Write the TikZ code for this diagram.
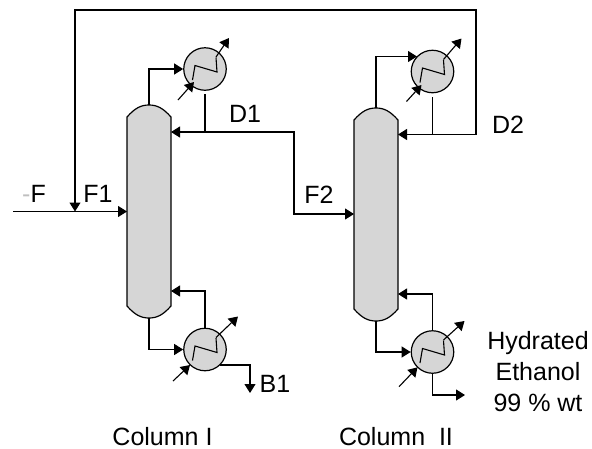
\documentclass[tikz,border=0pt]{standalone}
\usepackage{fontspec}
\setmainfont{Liberation Sans}
\usetikzlibrary{arrows.meta}
\tikzset{
  x=1pt,y=-1pt,
  line/.style={draw=black,line width=1.1pt,line join=miter},
  flow/.style={line,-{Triangle[length=9pt,width=11pt]}},
  vessel/.style={draw=black,line width=1.2pt,fill=black!16},
  hx/.style={circle,vessel,minimum size=42.5pt,inner sep=0pt},
  lab/.style={font=\fontsize{25}{31}\selectfont,text=black,inner sep=0pt,align=center},
}
\newcommand{\coil}[4]{%
  \draw[line] ([shift={(-12.5,11)}]#1.center) -- ++(2.5,-14.5) -- ++(22,6.5) -- ++(-1,-14.5);
  \draw[flow] ([shift={(11,-12)}]#1.center) -- ([shift={(#2)}]#1.center);
  \draw[flow] ([shift={(#3)}]#1.center) -- ([shift={(#4)}]#1.center);
}
\newcommand{\column}[3]{% name, left x, top y
  \draw[vessel] (#2,#3+12) .. controls (#2+8,#3+3) and (#2+14,#3) .. (#2+22,#3)
     .. controls (#2+30,#3) and (#2+36,#3+3) .. (#2+44,#3+12) -- (#2+44,#3+201)
     .. controls (#2+36,#3+210) and (#2+30,#3+213) .. (#2+22,#3+213)
     .. controls (#2+14,#3+213) and (#2+8,#3+210) .. (#2,#3+201) -- cycle;
  \coordinate (#1top) at (#2+22,#3);
  \coordinate (#1bot) at (#2+22,#3+213);
}
\begin{document}
\begin{tikzpicture}
\useasboundingbox (0,0) rectangle (592,448);
\column{ca}{127}{105}
\column{cb}{354}{108}
\node[hx] (ha) at (205,69) {};
\node[hx] (ra) at (205,349.5) {};
\node[hx] (hb) at (432.5,71.5) {};
\node[hx] (rb) at (432.5,352) {};
\coil{ha}{24,-31}{-27,31}{-11,13}
\coil{ra}{33,-33}{-32,31.5}{-15,15.5}
\coil{hb}{29,-33}{-26,30}{-11,13.5}
\coil{rb}{32,-31}{-33.5,34.7}{-15,15.3}
% column I
\coordinate (a1) at (205,94);
\coordinate (a2) at (205,132);
\coordinate (ain) at (171,132);
\coordinate (f2c) at (294,132);
\coordinate (f2d) at (294,214);
\coordinate (bin) at (354,214);
\draw[flow] (catop) |- (ha.west);
\draw[line] (a1) -- (a2);
\draw[flow] (f2d |- a2) -- (ain);
\draw[flow] (a2) -- (f2c) -- (f2d) -- (bin);
\draw[flow] (cabot) |- (ra.west);
\coordinate (ar) at (171,291);
\draw[flow] (ra.north) |- (ar);
\coordinate (bo) at (250,365);
\coordinate (bt) at (250,393);
\draw[flow] ([shift={(15,15.5)}]ra.center) -- (bo) -- (bt);
% column II
\coordinate (b1) at (432.5,97);
\coordinate (b2) at (432.5,134.5);
\coordinate (bi) at (398,134.5);
\coordinate (r1) at (476,134.5);
\coordinate (r2) at (476,10);
\coordinate (r3) at (75,10);
\coordinate (fm) at (75,211.5);
\coordinate (fs) at (13,211.5);
\coordinate (fe) at (127,211.5);
\coordinate (bv) at (376,56.5);
\coordinate (bvt) at (417,56.5);
\draw[flow] (cbtop) -- (bv) -- (bvt);
\draw[line] (b1) -- (b2);
\draw[flow] (r1) -- (bi);
\draw[flow] (r1) -- (r2) -- (r3) -- (fm);
\draw[flow] (fs) -- (fe);
\coordinate (br) at (398,294);
\draw[flow] (rb.north) |- (br);
\draw[flow] (cbbot) |- (rb.west);
\coordinate (bo2) at (432.5,395);
\coordinate (bo3) at (465,395);
\draw[flow] (rb.south) -- (bo2) -- (bo3);
% labels
\node[lab] (lF) at (34,194) {{\color{black!25}-}F};
\node[lab] (lF1) at (98,194) {F1};
\node[lab] (lD1) at (245,114) {D1};
\node[lab] (lF2) at (319,195) {F2};
\node[lab] (lD2) at (508,125) {D2};
\node[lab] (lB1) at (275,384) {B1};
\node[lab] (lH) at (538,372) {Hydrated\\Ethanol\\99 \% wt};
\node[lab] (lC1) at (162.5,436.5) {Column I};
\node[lab] (lC2) at (396,436.5) {Column\ \ II};
\end{tikzpicture}
\end{document}
